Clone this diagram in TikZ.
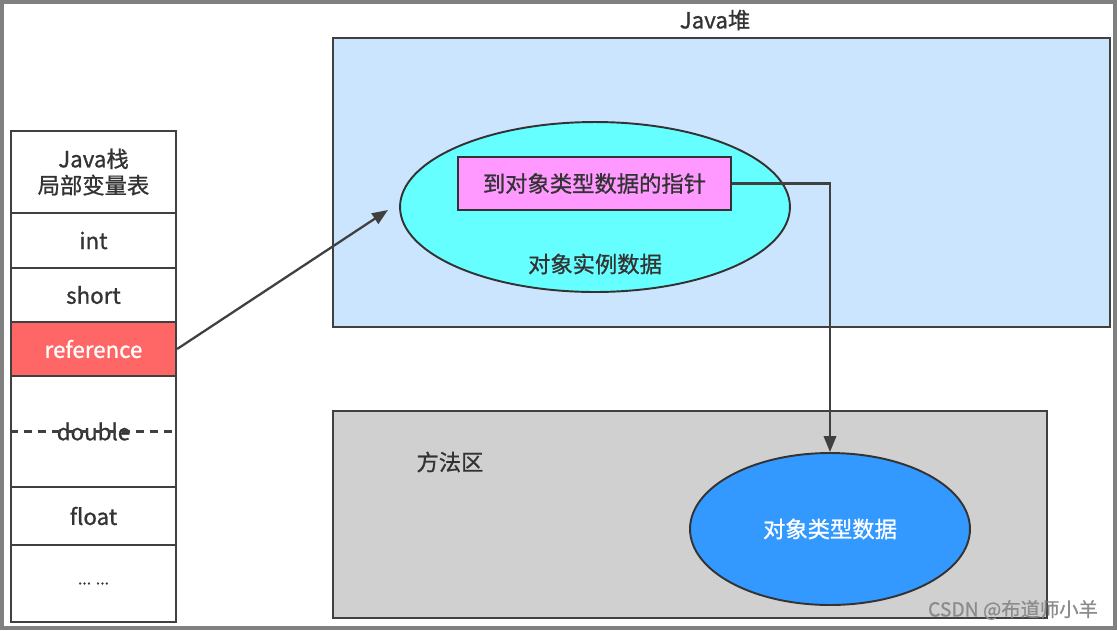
\documentclass[tikz,border=0pt]{standalone}
\usepackage{fontspec}
\setmainfont{Noto Sans CJK SC}[FakeBold=0.9]
\usetikzlibrary{shapes.geometric,arrows.meta}
\definecolor{txt}{HTML}{333333}
\definecolor{refred}{HTML}{FF6666}
\definecolor{heapblue}{HTML}{CCE5FF}
\definecolor{objcyan}{HTML}{66FFFF}
\definecolor{ptrpink}{HTML}{FF99FF}
\definecolor{methgray}{HTML}{D0D0D0}
\definecolor{typeblue}{HTML}{3399FF}
\tikzset{
  slot/.style={draw=black!75, line width=1.3pt, fill=white, minimum width=3.3cm, inner sep=0pt},
  area/.style={draw=black!75, line width=1.4pt, inner sep=0pt},
  blob/.style={ellipse, draw=black!80, line width=1.1pt, inner sep=0pt},
  link/.style={draw=black!75, line width=1.3pt, -{Triangle[length=9pt,width=7pt]}},
}
\begin{document}
\begin{tikzpicture}[x=0.02cm, y=-0.02cm, font=\fontsize{12.7}{15}\selectfont, text=txt]
    \useasboundingbox (0,0) rectangle (1117,630);
    \draw[black!50, line width=2.2pt] (2,2) rectangle (1115,628);

    % Java栈
    \node[slot, minimum height=1.64cm, align=center] (head) at (93.5,172) {Java栈\\局部变量表};
    \node[slot, minimum height=1.1cm] (int) at (93.5,240.5) {int};
    \node[slot, minimum height=1.08cm] (short) at (93.5,295) {short};
    \node[slot, minimum height=1.08cm, fill=refred, text=white] (ref) at (93.5,349) {reference};
    \node[slot, minimum height=2.22cm] (dbl) at (93.5,431.5) {double};
    \draw[black!75, line width=1.3pt, dash pattern=on 4.5pt off 3.5pt] (dbl.west) -- (dbl.east);
    \node[slot, minimum height=1.16cm] (float) at (93.5,516) {float};
    \node[slot, minimum height=1.54cm] (more) at (93.5,583.5) {\fontsize{9}{11}\selectfont ... ...};

    % Java堆
    \node (heaptitle) at (715,20) {Java堆};
    \node[area, fill=heapblue, minimum width=15.54cm, minimum height=5.78cm] (heap) at (721.5,182.5) {};
    \node[blob, fill=objcyan, minimum width=7.8cm, minimum height=3.4cm] (obj) at (595,207) {};
    \node[draw=black!80, line width=1.2pt, fill=ptrpink, minimum width=5.46cm, minimum height=1.06cm, inner sep=0pt] (ptr) at (594.5,183.5) {到对象类型数据的指针};
    \node (objtext) at (595,264) {对象实例数据};

    % 方法区
    \node[area, fill=methgray, minimum width=14.28cm, minimum height=4.14cm] (method) at (690,514.5) {};
    \node (methtitle) at (450,462) {方法区};
    \node[blob, fill=typeblue, text=white, minimum width=5.6cm, minimum height=3.04cm] (types) at (830,529) {对象类型数据};

    % 引用
    \coordinate (hit) at (388,210);
    \draw[link] (ref.east) -- (hit);
    \draw[link] (ptr.east) -| (types.north);

    \node[text=black!45, font=\fontsize{11}{13}\selectfont] (mark) at (1013,610) {CSDN @布道师小羊};
\end{tikzpicture}
\end{document}
